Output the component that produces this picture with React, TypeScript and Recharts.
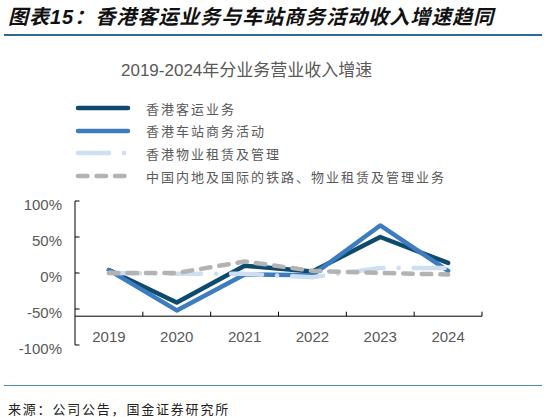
import React from 'react';
import { LineChart, Line, XAxis, YAxis, ReferenceLine, Legend } from 'recharts';

const years = ['2019', '2020', '2021', '2022', '2023', '2024'];
const hkPassenger = [4, -41, 10, 2, 50, 14];
const hkStation = [4, -52, -2, -3, 66, 3];
const hkProperty = [0, -1, -1, -6, 7, 7];
const mainlandIntl = [0, 0, 16, 3, 0, -2];
const yTicks = [-100, -50, 0, 50, 100];
const categoryBoundaries = [1, 2, 3, 4, 5, 6];
const axisCrossValue = -60;
const seriesNames = [
  '香港客运业务',
  '香港车站商务活动',
  '香港物业租赁及管理',
  '中国内地及国际的铁路、物业租赁及管理业务',
];

const seriesStyles = [
  { key: 's1', color: '#0d4a6e', dash: undefined, cap: 'round' },
  { key: 's2', color: '#3d7cbf', dash: undefined, cap: 'round' },
  { key: 's3', color: '#cddff1', dash: '31 15 0.1 15', cap: 'round' },
  { key: 's4', color: '#b3b3b3', dash: '9.5 9', cap: 'round' },
];

const data = years.map((y, i) => ({
  year: y,
  idx: i + 0.5,
  s1: hkPassenger[i],
  s2: hkStation[i],
  s3: hkProperty[i],
  s4: mainlandIntl[i],
}));

const FONT = '"Liberation Sans", "Noto Sans CJK SC", sans-serif';
const TXT = '#595959';

const YTick = (props: any) => {
  const { x, y, payload } = props;
  return (
    <g>
      <line x1={x + 13} x2={x + 17.5} y1={y} y2={y} stroke="#000" strokeWidth={1} />
      <text x={x} y={y + 3} textAnchor="end" dominantBaseline="central" fill={TXT} fontSize={15} fontFamily={FONT}>
        {payload.value}%
      </text>
    </g>
  );
};

const XTick = (props: any) => {
  const { x, y, payload } = props;
  return (
    <text x={x} y={y - 9} textAnchor="middle" dominantBaseline="central" fill={TXT} fontSize={15} fontFamily={FONT}>
      {payload.value}
    </text>
  );
};

const LegendContent = () => (
  <div style={{ fontFamily: FONT }}>
    {seriesStyles.map((s, i) => (
      <div key={s.key} style={{ height: 22.6, display: 'flex', alignItems: 'center' }}>
        <svg width={70} height={10} style={{ marginLeft: 72, display: 'block' }}>
          <line
            x1={6}
            x2={56}
            y1={5}
            y2={5}
            stroke={s.color}
            strokeWidth={4.5}
            strokeLinecap="round"
            strokeDasharray={s.dash}
          />
        </svg>
        <span style={{ fontSize: 13, color: TXT, letterSpacing: 2, marginLeft: 4, whiteSpace: 'nowrap' }}>
          {seriesNames[i]}
        </span>
      </div>
    ))}
  </div>
);

export default function App() {
  return (
    <div
      style={{
        position: 'absolute',
        left: 0,
        top: 0,
        width: 547,
        height: 417,
        background: '#fff',
        fontFamily: FONT,
        overflow: 'hidden',
      }}
    >
      <div
        style={{
          position: 'absolute',
          left: 8,
          top: 7,
          fontSize: 20,
          lineHeight: '20px',
          fontWeight: 'bold',
          fontStyle: 'italic',
          letterSpacing: 1,
          color: '#111',
          whiteSpace: 'nowrap',
        }}
      >
        图表15：香港客运业务与车站商务活动收入增速趋同
      </div>
      <div style={{ position: 'absolute', left: 4, top: 33.5, width: 538, height: 2, background: '#2d6a96' }} />
      <div
        style={{
          position: 'absolute',
          left: 121,
          top: 62,
          fontSize: 17,
          lineHeight: '18px',
          color: TXT,
          whiteSpace: 'nowrap',
        }}
      >
        2019-2024年分业务营业收入增速
      </div>

      <div style={{ position: 'absolute', left: 0, top: 0 }}>
        <LineChart width={547} height={417} data={data} margin={{ top: 201, right: 65, bottom: 42, left: 0 }}>
          <XAxis
            dataKey="year"
            scale="band"
            axisLine={false}
            tickLine={false}
            tickSize={0}
            tickMargin={0}
            height={30}
            tick={<XTick />}
            interval={0}
          />
          <XAxis xAxisId="grid" dataKey="idx" type="number" domain={[0, 6]} hide />
          <YAxis
            domain={[-100, 100]}
            ticks={yTicks}
            width={75}
            axisLine={{ stroke: '#000', strokeWidth: 1 }}
            tickLine={false}
            tickSize={0}
            tickMargin={13}
            tick={<YTick />}
            interval={0}
          />
          <ReferenceLine xAxisId="grid" y={axisCrossValue} stroke="#000" strokeWidth={1} />
          {categoryBoundaries.map((b) => (
            <ReferenceLine
              key={b}
              xAxisId="grid"
              segment={[
                { x: b, y: axisCrossValue },
                { x: b, y: axisCrossValue + 6.3 },
              ]}
              stroke="#000"
              strokeWidth={1}
            />
          ))}
          {seriesStyles.map((s, i) => (
            <Line
              key={s.key}
              dataKey={s.key}
              name={seriesNames[i]}
              type="linear"
              stroke={s.color}
              strokeWidth={4.5}
              strokeDasharray={s.dash}
              strokeLinecap={s.cap as any}
              strokeLinejoin="round"
              dot={false}
              activeDot={false}
              isAnimationActive={false}
            />
          ))}
          <Legend
            layout="horizontal"
            verticalAlign="middle"
            align="center"
            content={<LegendContent />}
            wrapperStyle={{ position: 'absolute', left: 0, top: 97, width: 500 }}
          />
        </LineChart>
      </div>

      <div style={{ position: 'absolute', left: 4, top: 384.5, width: 538, height: 1.5, background: '#4d8ab8' }} />
      <div
        style={{
          position: 'absolute',
          left: 8,
          top: 402,
          fontSize: 13,
          lineHeight: '15px',
          letterSpacing: 1.8,
          color: '#222',
          whiteSpace: 'nowrap',
        }}
      >
        来源：公司公告，国金证券研究所
      </div>
    </div>
  );
}
